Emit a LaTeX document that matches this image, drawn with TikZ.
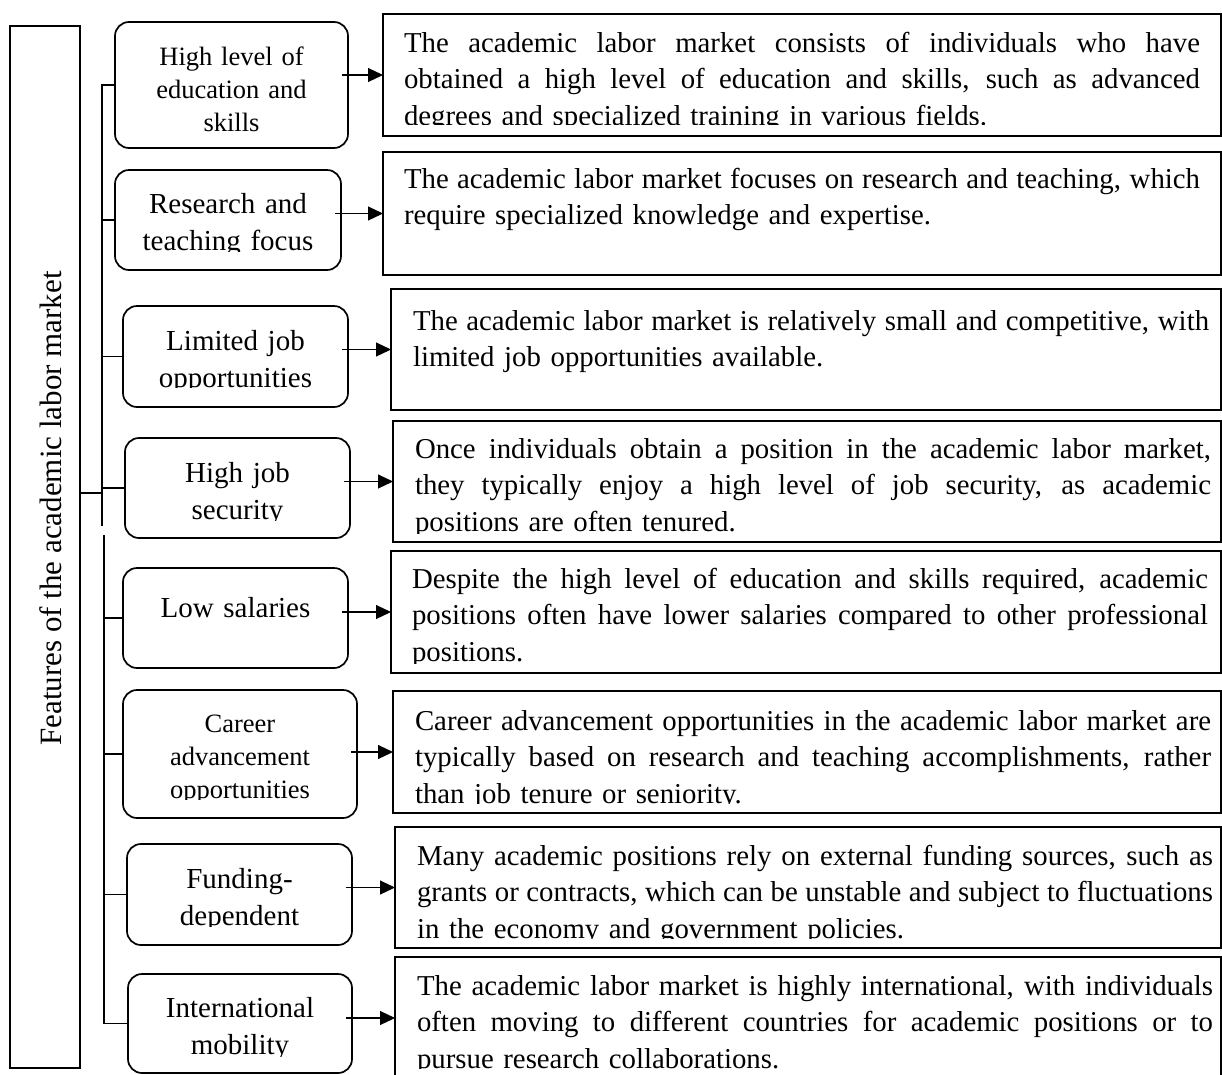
\documentclass[tikz,border=0pt]{standalone}
\usepackage{fontspec}
\setmainfont{Liberation Serif}
\usetikzlibrary{arrows.meta}
\newcommand{\justline}[1]{\leavevmode\hbox to 796pt{\spaceskip=7.2pt plus 12pt minus 2.6pt\relax #1}}
\begin{document}
\begin{tikzpicture}[x=1pt,y=-1pt,
  every node/.style={inner sep=0pt, outer sep=0pt},
  mainbox/.style={draw, line width=2pt},
  featbox/.style={draw, line width=1.7pt, rounded corners=14pt},
  descbox/.style={draw, line width=2.2pt},
  featbig/.style={font=\fontsize{29}{37}\selectfont, text width=224pt, align=center, anchor=base},
  featsmall/.style={font=\fontsize{26.5}{33}\selectfont, text width=230pt, align=center, anchor=base},
  desc/.style={font=\fontsize{28.8}{36.5}\selectfont, text width=796pt, align=left, anchor=base west},
  link/.style={line width=1.1pt},
  arr/.style={line width=1.1pt, -{Triangle[length=15pt,width=14pt]}},
]
\useasboundingbox[fill=white] (0,0) rectangle (1222,1074);

% title column
\node[mainbox, minimum width=70pt, minimum height=1042pt] (main) at (45,547) {};
\node[font=\fontsize{31}{37}\selectfont, rotate=90, anchor=base] (title) at (61.5,508.5)
  {Features of the academic labor market};

% feature boxes
\node[featbox, minimum width=233pt, minimum height=126pt] (b1) at (231.5,85) {};
\node[featbox, minimum width=226pt, minimum height=100pt] (b2) at (228,220) {};
\node[featbox, minimum width=225pt, minimum height=101pt] (b3) at (235.5,356.5) {};
\node[featbox, minimum width=225pt, minimum height=100pt] (b4) at (237.5,488) {};
\node[featbox, minimum width=225pt, minimum height=100pt] (b5) at (235.5,618) {};
\node[featbox, minimum width=234pt, minimum height=128pt] (b6) at (240,754) {};
\node[featbox, minimum width=225pt, minimum height=101pt] (b7) at (239.5,894.5) {};
\node[featbox, minimum width=224pt, minimum height=99pt] (b8) at (240,1023.5) {};

% feature labels (text boxes cut off at their lower edge)
\node[featsmall] (t1) at (231.5,65) {High level of\\education and\\skills};
\begin{scope}
  \clip (115,170) rectangle (341,251);
  \node[featbig] (t2) at (228,213) {Research and\\teaching focus};
\end{scope}
\begin{scope}
  \clip (123,306) rectangle (348,387);
  \node[featbig] (t3) at (235.5,350) {Limited job\\opportunities};
\end{scope}
\begin{scope}
  \clip (125,438) rectangle (350,520);
  \node[featbig] (t4) at (237.5,482) {High job\\security};
\end{scope}
\node[featbig] (t5) at (235.5,617) {Low salaries};
\begin{scope}
  \clip (123,690) rectangle (357,799);
  \node[featsmall] (t6) at (240,732) {Career\\advancement\\opportunities};
\end{scope}
\begin{scope}
  \clip (127,844) rectangle (352,926);
  \node[featbig] (t7) at (239.5,888) {Funding-\\dependent};
\end{scope}
\begin{scope}
  \clip (128,974) rectangle (352,1056);
  \node[featbig] (t8) at (240,1017) {International\\mobility};
\end{scope}

% description boxes
\node[descbox, minimum width=838pt, minimum height=122pt] (r1) at (802,75) {};
\node[descbox, minimum width=838pt, minimum height=123pt] (r2) at (802,213.5) {};
\node[descbox, minimum width=830pt, minimum height=121pt] (r3) at (806,349.5) {};
\node[descbox, minimum width=828pt, minimum height=121pt] (r4) at (807,481.5) {};
\node[descbox, minimum width=830pt, minimum height=122pt] (r5) at (806,612) {};
\node[descbox, minimum width=828pt, minimum height=122pt] (r6) at (807,752) {};
\node[descbox, minimum width=826pt, minimum height=121pt] (r7) at (808,887.5) {};
\node[descbox, minimum width=826pt, minimum height=122pt] (r8) at (808,1018) {};

% description texts
\begin{scope}
  \clip (383,14) rectangle (1221,124.5);
  \node[desc] (d1) at (404,52) {\justline{The academic labor market consists of individuals who have}\\
    \justline{obtained a high level of education and skills, such as advanced}\\
    degrees and specialized training in various fields.};
\end{scope}
\node[desc] (d2) at (404,188) {\justline{The academic labor market focuses on research and teaching, which}\\
  require specialized knowledge and expertise.};
\node[desc] (d3) at (413,330) {\justline{The academic labor market is relatively small and competitive, with}\\
  limited job opportunities available.};
\begin{scope}
  \clip (393,421) rectangle (1221,533.5);
  \node[desc] (d4) at (415,458) {\justline{Once individuals obtain a position in the academic labor market,}\\
    \justline{they typically enjoy a high level of job security, as academic}\\
    positions are often tenured.};
\end{scope}
\begin{scope}
  \clip (391,551) rectangle (1221,663.5);
  \node[desc] (d5) at (412,588) {\justline{Despite the high level of education and skills required, academic}\\
    \justline{positions often have lower salaries compared to other professional}\\
    positions.};
\end{scope}
\begin{scope}
  \clip (393,691) rectangle (1221,803.5);
  \node[desc] (d6) at (415,730) {\justline{Career advancement opportunities in the academic labor market are}\\
    \justline{typically based on research and teaching accomplishments, rather}\\
    than job tenure or seniority.};
\end{scope}
\begin{scope}
  \clip (395,827) rectangle (1221,938.5);
  \node[desc] (d7) at (417,865) {\justline{Many academic positions rely on external funding sources, such as}\\
    \justline{grants or contracts, which can be unstable and subject to fluctuations}\\
    in the economy and government policies.};
\end{scope}
\begin{scope}
  \clip (395,957) rectangle (1221,1068.5);
  \node[desc] (d8) at (417,995) {\justline{The academic labor market is highly international, with individuals}\\
    \justline{often moving to different countries for academic positions or to}\\
    pursue research collaborations.};
\end{scope}

% bracket spine joining the feature boxes
\coordinate (sa) at (102,526);
\coordinate (sb) at (104,535);
\draw[link] (b1.west) -| (sa);
\foreach \b in {b2,b3,b4} \draw[link] (\b.west) -- (\b.west -| sa);
\draw[link] (b8.west) -| (sb);
\foreach \b in {b5,b6,b7} \draw[link] (\b.west) -- (\b.west -| sb);
\draw[link] (main.east |- 0,493) -- (sa |- 0,493);

% arrows to the descriptions
\foreach \i in {1,...,8} \draw[arr] ([xshift=-6pt]b\i.east |- r\i.west) -- (r\i.west);
\end{tikzpicture}
\end{document}
